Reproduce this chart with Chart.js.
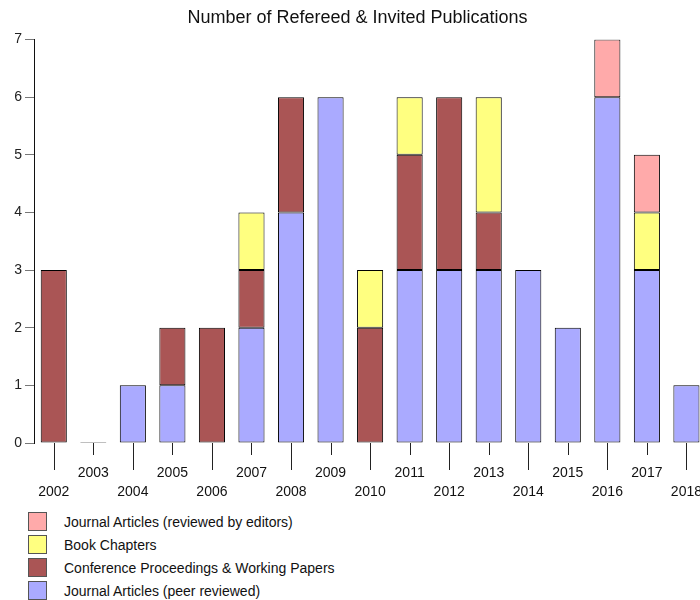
<!DOCTYPE html>
<html lang="en">
<head>
  <meta charset="utf-8">
  <title>Publications</title>
  <script src="https://cdn.jsdelivr.net/npm/chart.js@4.4.1/dist/chart.umd.min.js"></script>
  <style>
    body {
      margin: 0;
      width: 700px;
      height: 600px;
      overflow: hidden;
      background: #fff;
      font-family: 'Liberation Sans', Arial, sans-serif;
      color: #111;
    }

    /* wider than the page on purpose: the last year runs off the edge */
    #wrap {
      position: relative;
      width: 715px;
      height: 500px;
    }

    #legend {
      position: absolute;
      left: 28px;
      top: 510px;
      margin: 0;
      padding: 0;
      list-style: none;
      font-size: 14px;
    }

    #legend li {
      height: 23px;
      display: flex;
      align-items: center;
    }

    #legend span.box {
      display: inline-block;
      width: 17px;
      height: 17px;
      border: 1px solid #555;
      margin-right: 17px;
    }
  </style>
</head>

<body>
  <div id="wrap">
    <canvas id="pubChart"></canvas>
  </div>
  <ul id="legend"></ul>

<script>
  // publications per year, by type
  const years = ['2002', '2003', '2004', '2005', '2006', '2007', '2008', '2009', '2010',
    '2011', '2012', '2013', '2014', '2015', '2016', '2017', '2018'];
  const journalPeer = [0, 0, 1, 1, 0, 2, 4, 6, 0, 3, 3, 3, 3, 2, 6, 3, 1];
  const conference  = [3, 0, 0, 1, 2, 1, 2, 0, 2, 2, 3, 1, 0, 0, 0, 0, 0];
  const bookChapter = [0, 0, 0, 0, 0, 1, 0, 0, 1, 1, 0, 2, 0, 0, 0, 1, 0];
  const journalEd   = [0, 0, 0, 0, 0, 0, 0, 0, 0, 0, 0, 0, 0, 0, 1, 1, 0];
  const yTicks = [0, 1, 2, 3, 4, 5, 6, 7];

  const totals = years.map((y, i) => journalPeer[i] + conference[i] + bookChapter[i] + journalEd[i]);

  // hide empty segments, but keep a flat bar for years with nothing at all
  function segs(arr, keepEmpty) {
    return arr.map((v, i) => (v > 0 || (keepEmpty && totals[i] === 0)) ? v : null);
  }

  const FONT = "'Liberation Sans', Arial, sans-serif";

  function series(label, data, color, keepEmpty) {
    return {
      label: label,
      data: segs(data, keepEmpty),
      backgroundColor: color,
      borderColor: '#000',
      borderWidth: 1,
      borderSkipped: false,
      minBarLength: keepEmpty ? 1 : 0,
      barPercentage: 0.66,
      categoryPercentage: 1.0
    };
  }

  // long ticks under the even years, short ones under the odd years
  const yearTicks = {
    id: 'yearTicks',
    afterDraw(chart) {
      const x = chart.scales.x, y = chart.scales.y;
      const ctx = chart.ctx;
      const base = y.getPixelForValue(0);
      ctx.save();
      ctx.strokeStyle = '#222';
      ctx.lineWidth = 1;
      years.forEach((yr, i) => {
        const px = Math.round(x.getPixelForTick(i)) + 0.5;
        ctx.beginPath();
        ctx.moveTo(px, base);
        ctx.lineTo(px, base + (i % 2 === 0 ? 27 : 12));
        ctx.stroke();
      });
      ctx.restore();
    }
  };

  const chart = new Chart(document.getElementById('pubChart'), {
    type: 'bar',
    data: {
      labels: years,
      datasets: [
        series('Journal Articles (peer reviewed)', journalPeer, '#aaaaff', true),
        series('Conference Proceedings & Working Papers', conference, '#aa5555', false),
        series('Book Chapters', bookChapter, '#ffff80', false),
        series('Journal Articles (reviewed by editors)', journalEd, '#ffaaaa', false)
      ]
    },
    options: {
      responsive: true,
      maintainAspectRatio: false,
      animation: false,
      layout: { padding: { left: 0, right: 0, top: 0, bottom: 0 } },
      plugins: {
        legend: { display: false },
        tooltip: { enabled: false },
        title: {
          display: true,
          text: 'Number of Refereed & Invited Publications',
          color: '#111',
          font: { family: FONT, size: 18, weight: 'normal', lineHeight: 1.2 },
          padding: { top: 7, bottom: 11 }
        }
      },
      scales: {
        x: {
          stacked: true,
          grid: { display: false },
          border: { display: false },
          ticks: {
            color: '#111',
            padding: 13,
            maxRotation: 0,
            autoSkip: false,
            font: { family: FONT, size: 14, lineHeight: 1.35 },
            callback: (v, i) => i % 2 === 0 ? ['', years[i]] : years[i]
          },
          afterFit(scale) { scale.height = 57; }
        },
        y: {
          stacked: true,
          min: 0,
          max: 7,
          afterBuildTicks(scale) { scale.ticks = yTicks.map(v => ({ value: v })); },
          grid: { drawOnChartArea: false, drawTicks: true, tickLength: 9, color: '#777' },
          border: { display: true, color: '#111', width: 1 },
          ticks: {
            color: '#222',
            padding: 3,
            font: { family: FONT, size: 14 }
          },
          afterFit(scale) { scale.width = 34; }
        }
      }
    },
    plugins: [yearTicks]
  });

  // legend listed top layer first
  const legend = document.getElementById('legend');
  chart.data.datasets.slice().reverse().forEach(ds => {
    const li = document.createElement('li');
    const box = document.createElement('span');
    box.className = 'box';
    box.style.background = ds.backgroundColor;
    li.appendChild(box);
    li.appendChild(document.createTextNode(ds.label));
    legend.appendChild(li);
  });
</script>
</body>
</html>
